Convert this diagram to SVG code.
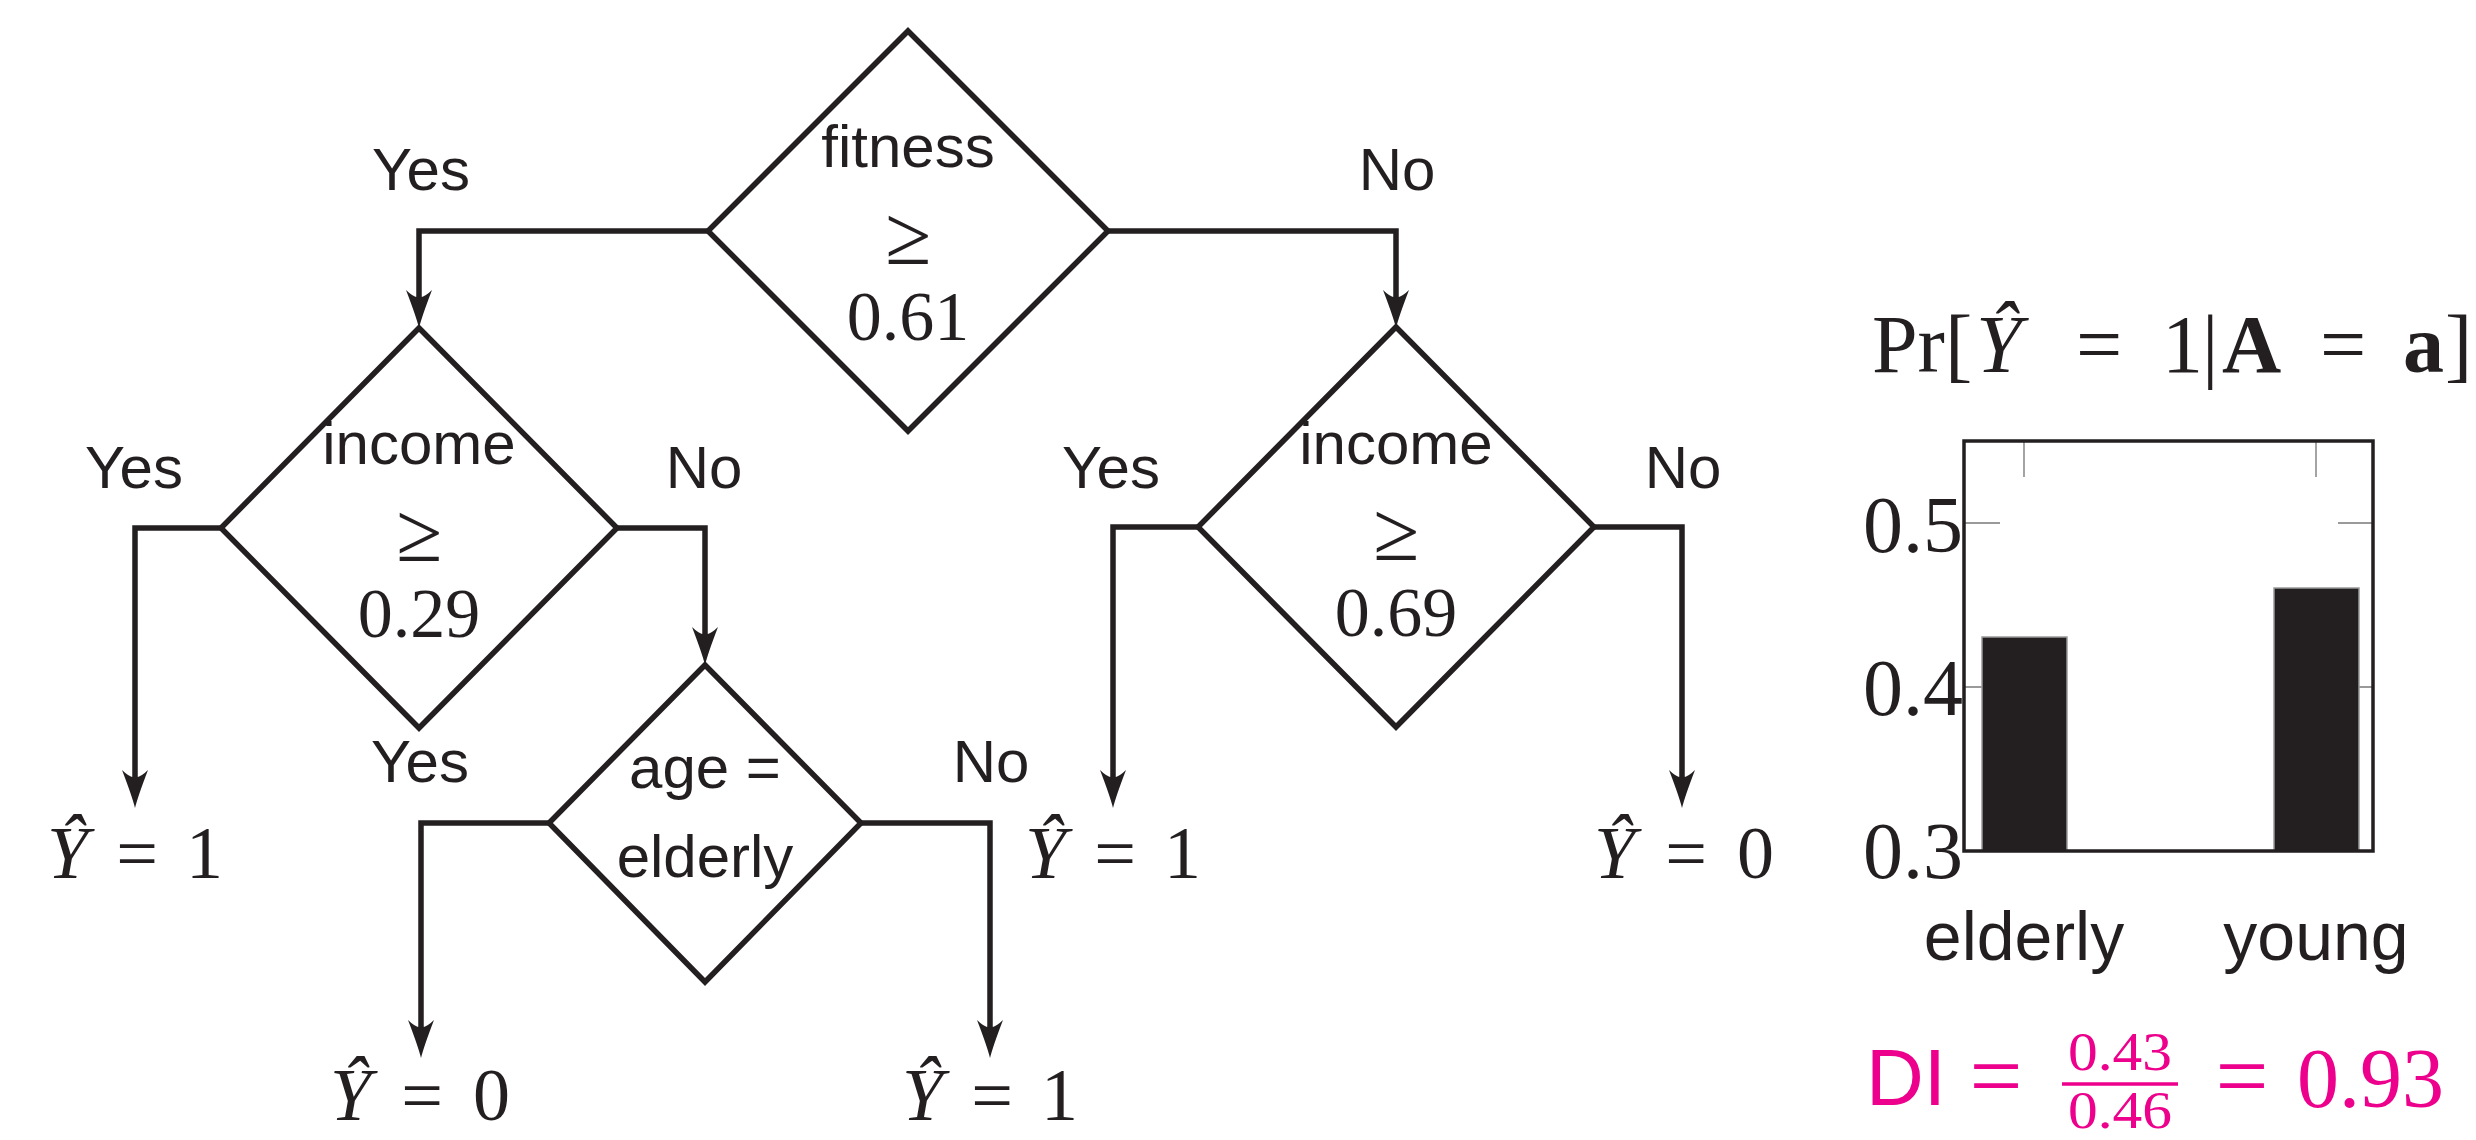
<svg xmlns="http://www.w3.org/2000/svg" width="2476" height="1140" viewBox="0 0 2476 1140">
<style>
  .bg{fill:#ffffff}
  .dia{fill:#ffffff;stroke:#231f20;stroke-width:5.5;stroke-linejoin:miter}
  .con{fill:none;stroke:#231f20;stroke-width:5.5;stroke-linejoin:miter}
  .sans{font-family:"Liberation Sans",Arial,sans-serif;fill:#231f20}
  .lbl{font-size:60px;text-anchor:middle}
  .yn{font-family:"Liberation Sans",Arial,sans-serif;font-size:60px;fill:#231f20;text-anchor:middle}
  .ser{font-family:"Liberation Serif","Times New Roman",serif;fill:#231f20}
  .num{font-size:70px;text-anchor:middle}
  .geq{font-size:84px;text-anchor:middle}
  .leaf{font-family:"Liberation Serif","Times New Roman",serif;font-size:74px;fill:#231f20;text-anchor:middle}
  .it{font-style:italic}
  .bd{font-weight:bold}
  .frame{fill:none;stroke:#231f20;stroke-width:3.5}
  .tick{stroke:#9a9a9a;stroke-width:1.8}
  .bar{fill:#231f20;stroke:#9a9a9a;stroke-width:1.5}
  .ax{font-family:"Liberation Serif","Times New Roman",serif;font-size:80px;fill:#231f20;text-anchor:end}
  .cat{font-family:"Liberation Sans",Arial,sans-serif;font-size:68px;fill:#231f20;text-anchor:middle}
  .mag{fill:#ec008c}
  .ttl{font-family:"Liberation Serif","Times New Roman",serif;font-size:82px;fill:#231f20}
</style>
<defs>
  <marker id="arr" markerUnits="userSpaceOnUse" viewBox="-40 -15 42 30" markerWidth="42" markerHeight="30" refX="-18" refY="0" orient="auto" overflow="visible">
    <path d="M0,0 Q-12,-3 -38,-13 Q-30,-5 -31,0 Q-30,5 -38,13 Q-12,3 0,0 Z" fill="#231f20"/>
  </marker>
</defs>
<rect class="bg" x="0" y="0" width="2476" height="1140"/>

<g id="connectors">
  <polyline class="con" points="708,231 419,231 419,310" marker-end="url(#arr)"/>
  <polyline class="con" points="1108,231 1396,231 1396,310" marker-end="url(#arr)"/>
  <polyline class="con" points="221,528 135,528 135,790" marker-end="url(#arr)"/>
  <polyline class="con" points="617,528 705,528 705,647" marker-end="url(#arr)"/>
  <polyline class="con" points="549,823 421,823 421,1040" marker-end="url(#arr)"/>
  <polyline class="con" points="861,823 990,823 990,1040" marker-end="url(#arr)"/>
  <polyline class="con" points="1198,527 1113,527 1113,790" marker-end="url(#arr)"/>
  <polyline class="con" points="1594,527 1682,527 1682,790" marker-end="url(#arr)"/>
  <text class="yn" x="421" y="190">Yes</text>
  <text class="yn" x="1397" y="190">No</text>
  <text class="yn" x="134" y="488">Yes</text>
  <text class="yn" x="704" y="488">No</text>
  <text class="yn" x="1111" y="488">Yes</text>
  <text class="yn" x="1683" y="488">No</text>
  <text class="yn" x="420" y="782">Yes</text>
  <text class="yn" x="991" y="782">No</text>
</g>

<g id="node-fitness">
  <polygon class="dia" points="908,31 1108,231 908,431 708,231"/>
  <text class="sans lbl" x="908" y="167">fitness</text>
  <text class="ser geq" x="908" y="264">≥</text>
  <text class="ser num" x="908" y="340">0.61</text>
</g>

<g id="node-income-left">
  <polygon class="dia" points="419,328 617,528 419,728 221,528"/>
  <text class="sans lbl" x="419" y="464">income</text>
  <text class="ser geq" x="419" y="561">≥</text>
  <text class="ser num" x="419" y="637">0.29</text>
</g>

<g id="node-income-right">
  <polygon class="dia" points="1396,327 1594,527 1396,727 1198,527"/>
  <text class="sans lbl" x="1396" y="464">income</text>
  <text class="ser geq" x="1396" y="560">≥</text>
  <text class="ser num" x="1396" y="636">0.69</text>
</g>

<g id="node-age">
  <polygon class="dia" points="705,665 861,823 705,982 549,823"/>
  <text class="sans lbl" x="705" y="788">age =</text>
  <text class="sans lbl" x="705" y="877">elderly</text>
</g>

<g id="leaf-1">
  <text class="leaf" x="135" y="878" textLength="176" lengthAdjust="spacing"><tspan class="it">Ŷ</tspan> = 1</text>
</g>
<g id="leaf-2">
  <text class="leaf" x="420" y="1120" textLength="180" lengthAdjust="spacing"><tspan class="it">Ŷ</tspan> = 0</text>
</g>
<g id="leaf-3">
  <text class="leaf" x="990" y="1120" textLength="176" lengthAdjust="spacing"><tspan class="it">Ŷ</tspan> = 1</text>
</g>
<g id="leaf-4">
  <text class="leaf" x="1113" y="878" textLength="176" lengthAdjust="spacing"><tspan class="it">Ŷ</tspan> = 1</text>
</g>
<g id="leaf-5">
  <text class="leaf" x="1684" y="878" textLength="180" lengthAdjust="spacing"><tspan class="it">Ŷ</tspan> = 0</text>
</g>

<g id="chart">
  <text class="ttl" y="372"><tspan x="1872">Pr[</tspan><tspan class="it" x="1976">Ŷ</tspan><tspan x="2076">=</tspan><tspan x="2162">1</tspan><tspan x="2202">|</tspan><tspan class="bd" x="2222">A</tspan><tspan x="2320">=</tspan><tspan class="bd" x="2403">a</tspan><tspan x="2445">]</tspan></text>
  <line class="tick" x1="2024" y1="441" x2="2024" y2="477"/>
  <line class="tick" x1="2316" y1="441" x2="2316" y2="477"/>
  <line class="tick" x1="1964" y1="523" x2="2000" y2="523"/>
  <line class="tick" x1="2338" y1="523" x2="2373" y2="523"/>
  <line class="tick" x1="1964" y1="687" x2="2000" y2="687"/>
  <line class="tick" x1="2338" y1="687" x2="2373" y2="687"/>
  <rect class="bar" x="1982" y="637" width="85" height="214"/>
  <rect class="bar" x="2274" y="588" width="85" height="263"/>
  <rect class="frame" x="1964" y="441" width="409" height="410"/>
  <text class="ax" x="1963" y="552">0.5</text>
  <text class="ax" x="1963" y="715">0.4</text>
  <text class="ax" x="1963" y="878">0.3</text>
  <text class="cat" x="2024" y="960">elderly</text>
  <text class="cat" x="2316" y="960">young</text>
</g>

<g id="di">
  <text class="mag" x="1866" y="1105" font-family="Liberation Sans, Arial, sans-serif" font-size="80">DI</text>
  <text class="mag" x="1996" y="1107" font-family="Liberation Serif, Times New Roman, serif" font-size="94" text-anchor="middle">=</text>
  <text class="mag" x="2120" y="1070" font-family="Liberation Serif, Times New Roman, serif" font-size="54" text-anchor="middle" textLength="104" lengthAdjust="spacingAndGlyphs">0.43</text>
  <line x1="2062" y1="1084" x2="2178" y2="1084" stroke="#ec008c" stroke-width="3.5"/>
  <text class="mag" x="2120" y="1128" font-family="Liberation Serif, Times New Roman, serif" font-size="52" text-anchor="middle" textLength="104" lengthAdjust="spacingAndGlyphs">0.46</text>
  <text class="mag" x="2242" y="1107" font-family="Liberation Serif, Times New Roman, serif" font-size="94" text-anchor="middle">=</text>
  <text class="mag" x="2297" y="1107" font-family="Liberation Serif, Times New Roman, serif" font-size="84">0.93</text>
</g>
</svg>
